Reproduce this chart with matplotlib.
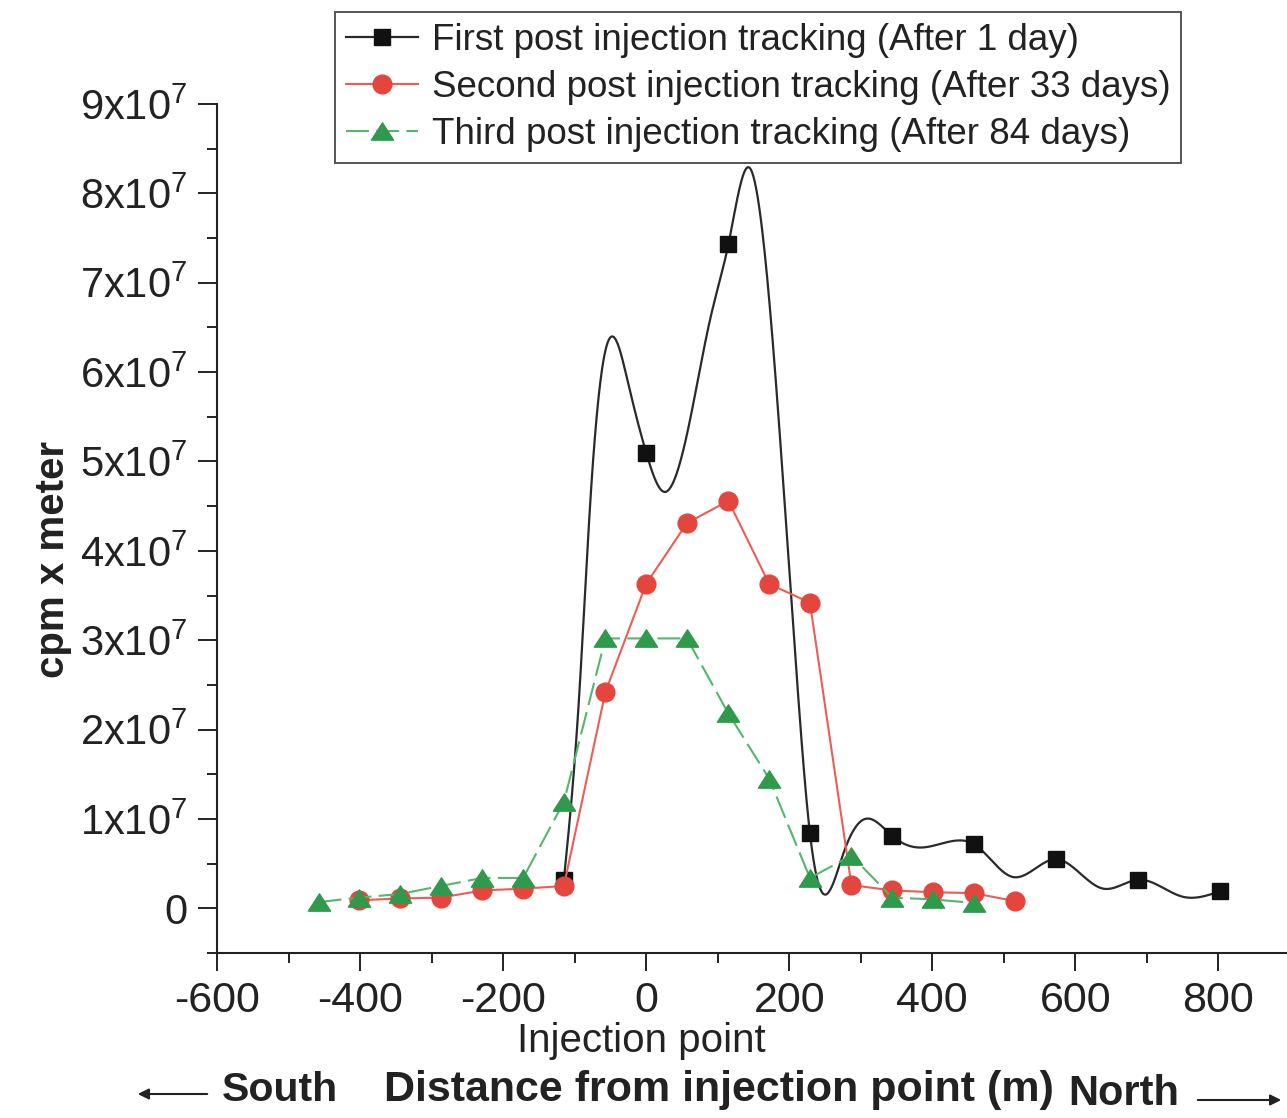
import numpy as np
import matplotlib
matplotlib.use("Agg")
import matplotlib.pyplot as plt
from matplotlib.ticker import FixedLocator, FuncFormatter
from matplotlib.patches import FancyArrowPatch
from matplotlib.path import Path

plt.rcParams["font.family"] = ["Liberation Sans", "DejaVu Sans"]
plt.rcParams["mathtext.fontset"] = "custom"
plt.rcParams["mathtext.rm"] = "Liberation Sans"

# ---------------- data (distance in m, activity in cpm x meter) ----------------
dist_first = [-115, 0, 115, 229, 344, 458, 573, 688, 802]
cpm_first = np.array([0.32, 5.10, 7.43, 0.84, 0.81, 0.72, 0.55, 0.32, 0.19]) * 1e7

# smoothed trace of the first tracking profile
trace_first_x = [-115, -94, -78, -57, -45, -25, 0, 25, 62, 90, 115, 144, 178, 213,
                 229, 248, 276, 306, 344, 383, 439, 458, 513, 573, 639, 688, 750, 802]
trace_first_y = np.array([0.32, 2.33, 4.56, 6.24, 6.39, 5.87, 5.10, 4.66, 5.49, 6.61,
                          7.43, 8.29, 6.24, 2.33, 0.84, 0.16, 0.62, 1.00, 0.81, 0.68,
                          0.76, 0.72, 0.35, 0.55, 0.22, 0.32, 0.13, 0.19]) * 1e7

dist_second = [-401, -344, -287, -229, -172, -115, -57, 0, 57, 115, 172, 229, 287,
               344, 401, 458, 516]
cpm_second = np.array([0.09, 0.11, 0.12, 0.20, 0.22, 0.25, 2.42, 3.63, 4.31, 4.56,
                       3.63, 3.42, 0.26, 0.20, 0.18, 0.17, 0.08]) * 1e7

dist_third = [-458, -401, -344, -287, -229, -172, -115, -57, 0, 57, 115, 172, 229,
              287, 344, 401, 458]
cpm_third = np.array([0.07, 0.12, 0.16, 0.25, 0.34, 0.34, 1.19, 3.02, 3.02, 3.02,
                      2.18, 1.45, 0.34, 0.59, 0.12, 0.10, 0.06]) * 1e7

labels = ["First post injection tracking (After 1 day)",
          "Second post injection tracking (After 33 days)",
          "Third post injection tracking (After 84 days)"]

x_major = [-600, -400, -200, 0, 200, 400, 600, 800]
x_minor = [-500, -300, -100, 100, 300, 500, 700]
y_major = np.arange(0, 10) * 1e7
y_minor = (np.arange(0, 10) - 0.5) * 1e7


def natural_spline(xk, yk, xs):
    """Natural cubic spline through the knots, evaluated at xs."""
    xk = np.asarray(xk, float)
    yk = np.asarray(yk, float)
    n = len(xk)
    h = np.diff(xk)
    A = np.zeros((n, n))
    b = np.zeros(n)
    A[0, 0] = A[-1, -1] = 1.0
    for i in range(1, n - 1):
        A[i, i - 1] = h[i - 1]
        A[i, i] = 2 * (h[i - 1] + h[i])
        A[i, i + 1] = h[i]
        b[i] = 6 * ((yk[i + 1] - yk[i]) / h[i] - (yk[i] - yk[i - 1]) / h[i - 1])
    M = np.linalg.solve(A, b)
    idx = np.clip(np.searchsorted(xk, xs) - 1, 0, n - 2)
    x0, x1 = xk[idx], xk[idx + 1]
    hh = h[idx]
    a = (x1 - xs) / hh
    c = (xs - x0) / hh
    return (a * yk[idx] + c * yk[idx + 1]
            + ((a**3 - a) * M[idx] + (c**3 - c) * M[idx + 1]) * hh**2 / 6)


W, H = 1287, 1118
fig = plt.figure(figsize=(W / 100, H / 100), dpi=100)
ax = fig.add_axes([217 / W, (H - 953) / H, (W - 217) / W, (953 - 104) / H])

black_line = "#2a2a2a"
red_mk, red_ln = "#e4463d", "#ec5d55"
green_mk, green_ln = "#2f9a4c", "#55b66e"

tri = Path([(-1, -0.78), (1, -0.78), (0, 0.78), (-1, -0.78)],
           [Path.MOVETO, Path.LINETO, Path.LINETO, Path.CLOSEPOLY])

# first tracking: smooth curve plus measured points
xs = np.linspace(trace_first_x[0], trace_first_x[-1], 2000)
ax.plot(xs, natural_spline(trace_first_x, trace_first_y, xs),
        color=black_line, lw=1.6, zorder=2)
ax.plot(dist_first, cpm_first, ls="none", marker="s", ms=12, color="#111111", zorder=3)
h1, = ax.plot([], [], color=black_line, lw=1.6, marker="s", ms=12,
              mfc="#111111", mec="#111111")

h2, = ax.plot(dist_second, cpm_second, color=red_ln, lw=1.5, marker="o", ms=13.5,
              mfc=red_mk, mec=red_mk, zorder=4)
h3, = ax.plot(dist_third, cpm_third, color=green_ln, lw=1.5, ls=(0, (11, 3.5)),
              marker=tri, ms=16, mfc=green_mk, mec=green_mk, zorder=5)

ax.set_xlim(-600, 896)
ax.set_ylim(-0.5e7, 9e7)
for side in ("top", "right"):
    ax.spines[side].set_visible(False)
for side in ("left", "bottom"):
    ax.spines[side].set_linewidth(1.5)
    ax.spines[side].set_color("#222222")

ax.xaxis.set_major_locator(FixedLocator(x_major))
ax.xaxis.set_minor_locator(FixedLocator(x_minor))
ax.yaxis.set_major_locator(FixedLocator(y_major))
ax.yaxis.set_minor_locator(FixedLocator(y_minor))
ax.yaxis.set_major_formatter(FuncFormatter(
    lambda v, p: "0" if abs(v) < 1 else r"%dx10$^{\mathregular{7}}$" % round(v / 1e7)))
ax.xaxis.set_major_formatter(FuncFormatter(lambda v, p: "%d" % v))

ax.tick_params(axis="both", which="both", direction="out", color="#222222", width=1.4)
ax.tick_params(axis="y", which="major", length=14, pad=7, labelsize=30, labelcolor="#222222")
ax.tick_params(axis="y", which="minor", length=7)
ax.tick_params(axis="x", which="major", length=13, pad=7, labelsize=31, labelcolor="#222222")
ax.tick_params(axis="x", which="minor", length=7)

ax.set_ylabel("cpm x meter", fontsize=29, fontweight="bold", color="#222222")
ax.yaxis.set_label_coords(-0.1355, 0.463)

leg = ax.legend([h1, h2, h3], labels, loc="upper left",
                bbox_to_anchor=(335 / W, 1 - 12 / H), bbox_transform=fig.transFigure,
                fontsize=26.5, handlelength=1.95, handletextpad=0.38, borderpad=0.3,
                labelspacing=0.32, borderaxespad=0, numpoints=1, frameon=True,
                fancybox=False, framealpha=1)
leg.get_frame().set_edgecolor("#555555")
leg.get_frame().set_linewidth(1.4)
for t in leg.get_texts():
    t.set_color("#222222")

# labels under the distance axis
fig.text(641 / W, 1 - 1041 / H, "Injection point", fontsize=29,
         ha="center", va="center", color="#222222")
fig.text(280 / W, 1 - 1090 / H, "South", fontsize=29.5, fontweight="bold",
         ha="center", va="center", color="#222222")
fig.text(719 / W, 1 - 1090 / H, "Distance from injection point (m)", fontsize=31,
         fontweight="bold", ha="center", va="center", color="#222222")
fig.text(1124 / W, 1 - 1094 / H, "North", fontsize=30, fontweight="bold",
         ha="center", va="center", color="#222222")

fig.add_artist(FancyArrowPatch((210 / W, 1 - 1094 / H), (135 / W, 1 - 1094 / H),
                               transform=fig.transFigure, arrowstyle="-|>",
                               mutation_scale=16, lw=1.5, color="#222222"))
fig.add_artist(FancyArrowPatch((1195 / W, 1 - 1100 / H), (1284 / W, 1 - 1100 / H),
                               transform=fig.transFigure, arrowstyle="-|>",
                               mutation_scale=16, lw=1.5, color="#222222"))

fig.savefig("out.png", dpi=100, facecolor="white")
